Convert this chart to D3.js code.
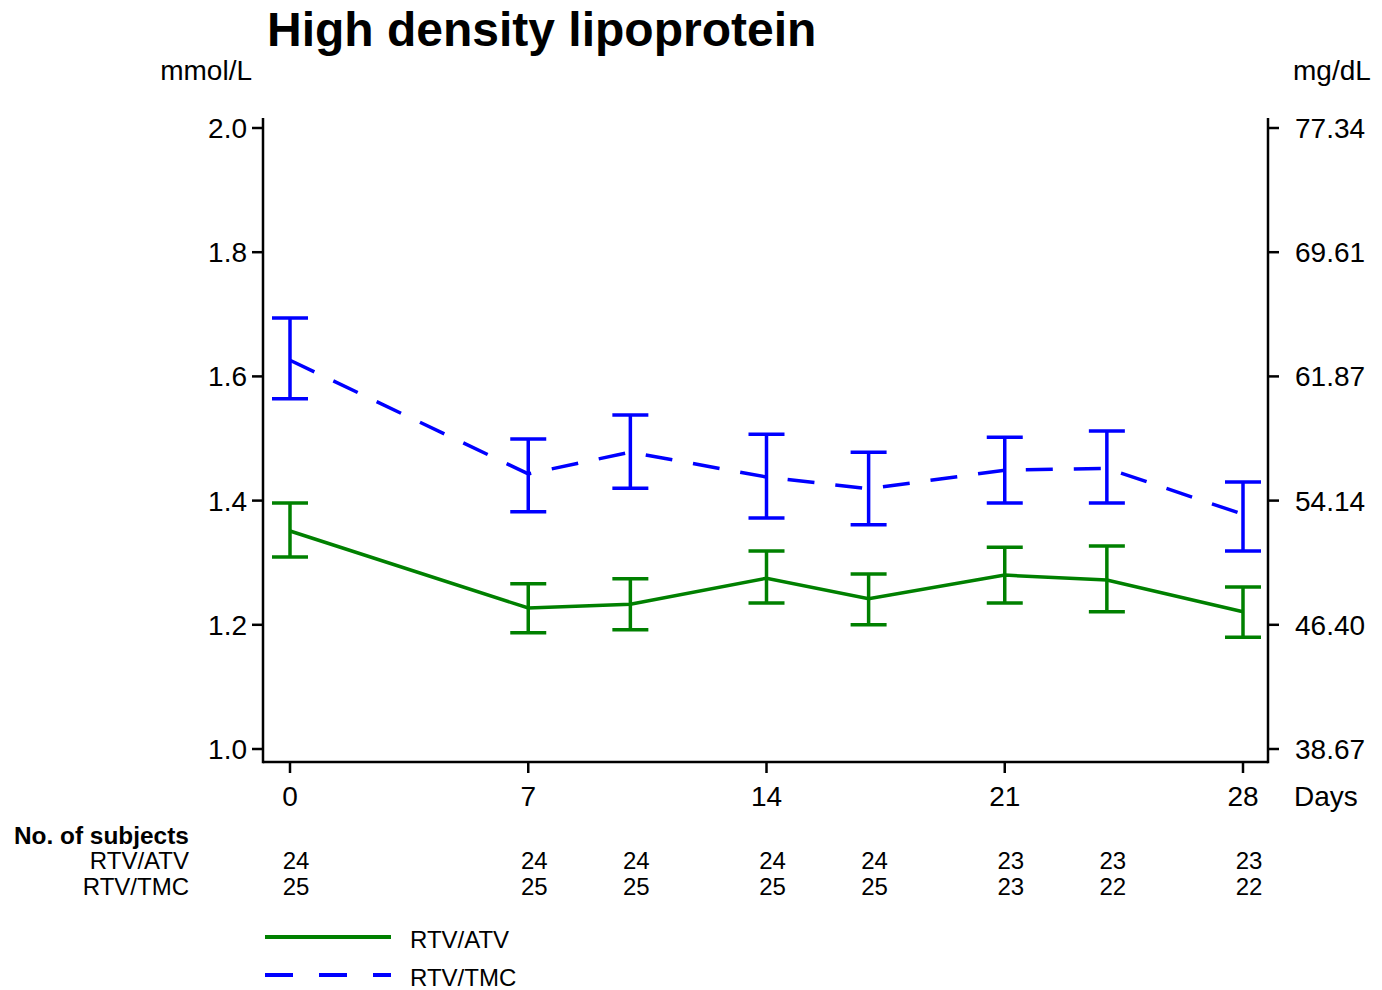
<!DOCTYPE html>
<html><head><meta charset="utf-8">
<script src="https://cdnjs.cloudflare.com/ajax/libs/d3/7.8.5/d3.min.js"></script>
<style>body{margin:0;background:#fff}svg{display:block;font-family:"Liberation Sans",Arial,sans-serif}</style>
</head><body><svg id="c" width="1382" height="990"></svg>
<script>
const days = [0, 7, 10, 14, 17, 21, 24, 28];
const atvMean = [1.351, 1.227, 1.233, 1.275, 1.242, 1.280, 1.272, 1.221];
const atvLow  = [1.309, 1.187, 1.192, 1.235, 1.200, 1.235, 1.221, 1.180];
const atvHigh = [1.396, 1.266, 1.274, 1.319, 1.282, 1.325, 1.327, 1.261];
const tmcMean = [1.626, 1.443, 1.478, 1.438, 1.419, 1.449, 1.452, 1.378];
const tmcLow  = [1.564, 1.382, 1.420, 1.372, 1.361, 1.396, 1.396, 1.319];
const tmcHigh = [1.694, 1.499, 1.538, 1.507, 1.478, 1.502, 1.512, 1.430];
const atvN = [24, 24, 24, 24, 24, 23, 23, 23];
const tmcN = [25, 25, 25, 25, 25, 23, 22, 22];
const yTicks = [1.0, 1.2, 1.4, 1.6, 1.8, 2.0];
const yTicksRight = ["38.67", "46.40", "54.14", "61.87", "69.61", "77.34"];
const xTicks = [0, 7, 14, 21, 28];
const seriesNames = ["RTV/ATV", "RTV/TMC"];

const svg = d3.select("#c");
const x = d3.scaleLinear().domain([0, 28]).range([290, 1243]);
const y = d3.scaleLinear().domain([1.0, 2.0]).range([749, 128]);
const axL = 263, axR = 1268, axB = 762;
const fs = 28;

// title
svg.append("text").attr("x", 267).attr("y", 46).attr("font-size", 48).attr("font-weight", "bold").text("High density lipoprotein");
svg.append("text").attr("x", 252).attr("y", 80).attr("font-size", fs).attr("text-anchor", "end").text("mmol/L");
svg.append("text").attr("x", 1293).attr("y", 80).attr("font-size", fs).text("mg/dL");

// axes lines
const ax = svg.append("g").attr("stroke", "#000").attr("stroke-width", 2.5).attr("fill", "none");
ax.append("line").attr("x1", axL).attr("x2", axL).attr("y1", 118).attr("y2", axB + 1.25);
ax.append("line").attr("x1", axR).attr("x2", axR).attr("y1", 118).attr("y2", axB + 1.25);
ax.append("line").attr("x1", axL).attr("x2", axR).attr("y1", axB).attr("y2", axB);

yTicks.forEach((t, i) => {
  ax.append("line").attr("x1", axL - 11).attr("x2", axL).attr("y1", y(t)).attr("y2", y(t));
  ax.append("line").attr("x1", axR).attr("x2", axR + 11).attr("y1", y(t)).attr("y2", y(t));
  svg.append("text").attr("x", 247).attr("y", y(t) + 10).attr("font-size", fs).attr("text-anchor", "end").text(d3.format(".1f")(t));
  svg.append("text").attr("x", 1295).attr("y", y(t) + 10).attr("font-size", fs).text(yTicksRight[i]);
});
xTicks.forEach(t => {
  ax.append("line").attr("x1", x(t)).attr("x2", x(t)).attr("y1", axB).attr("y2", axB + 11);
  svg.append("text").attr("x", x(t)).attr("y", 806).attr("font-size", fs).attr("text-anchor", "middle").text(t);
});
svg.append("text").attr("x", 1294).attr("y", 806).attr("font-size", fs).text("Days");

// series
const series = [
  {mean: atvMean, lo: atvLow, hi: atvHigh, color: "#008000", dash: null},
  {mean: tmcMean, lo: tmcLow, hi: tmcHigh, color: "#0000ff", dash: "27,21"}
];
const line = d3.line().x((d, i) => x(days[i])).y(d => y(d));
series.forEach(s => {
  const g = svg.append("g").attr("stroke", s.color).attr("stroke-width", 3.5).attr("fill", "none");
  days.forEach((d, i) => {
    g.append("line").attr("x1", x(d)).attr("x2", x(d)).attr("y1", y(s.lo[i])).attr("y2", y(s.hi[i]));
    g.append("line").attr("x1", x(d) - 18).attr("x2", x(d) + 18).attr("y1", y(s.lo[i])).attr("y2", y(s.lo[i]));
    g.append("line").attr("x1", x(d) - 18).attr("x2", x(d) + 18).attr("y1", y(s.hi[i])).attr("y2", y(s.hi[i]));
  });
  const p = g.append("path").attr("d", line(s.mean)).attr("stroke-width", 3.5);
  if (s.dash) p.attr("stroke-dasharray", s.dash);
});

// subjects table
const fs2 = 24;
svg.append("text").attr("x", 14).attr("y", 844).attr("font-size", 24.4).attr("font-weight", "bold").text("No. of subjects");
svg.append("text").attr("x", 189).attr("y", 869).attr("font-size", fs2).attr("text-anchor", "end").text(seriesNames[0]);
svg.append("text").attr("x", 189).attr("y", 895).attr("font-size", fs2).attr("text-anchor", "end").text(seriesNames[1]);
days.forEach((d, i) => {
  svg.append("text").attr("x", x(d) + 6).attr("y", 869).attr("font-size", fs2).attr("text-anchor", "middle").text(atvN[i]);
  svg.append("text").attr("x", x(d) + 6).attr("y", 895).attr("font-size", fs2).attr("text-anchor", "middle").text(tmcN[i]);
});

// legend
const lg = [{y: 937, color: "#008000", dash: null}, {y: 975, color: "#0000ff", dash: "28,26"}];
lg.forEach((l, i) => {
  const ln = svg.append("line").attr("x1", 265).attr("x2", 391).attr("y1", l.y).attr("y2", l.y)
    .attr("stroke", l.color).attr("stroke-width", 4);
  if (l.dash) ln.attr("stroke-dasharray", l.dash);
  svg.append("text").attr("x", 410).attr("y", l.y + 11).attr("font-size", fs2).text(seriesNames[i]);
});
</script></body></html>
